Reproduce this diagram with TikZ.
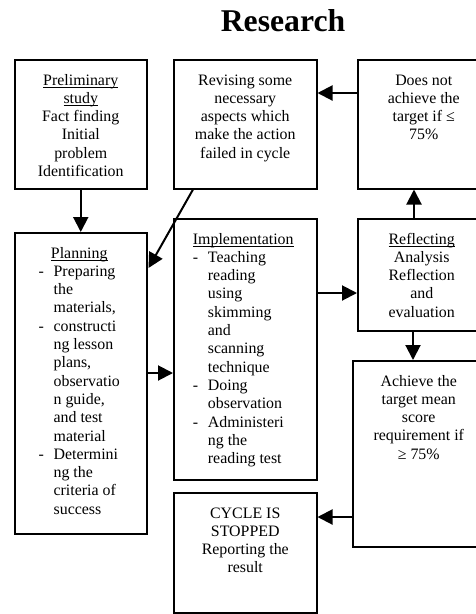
\documentclass[tikz,border=0pt]{standalone}
\usepackage{fontspec}
\setmainfont{Liberation Serif}
\usetikzlibrary{positioning}
\usetikzlibrary{calc}
\usetikzlibrary{arrows.meta}

\newcommand{\itm}{\makebox[15pt][l]{-}}
\newcommand{\cnt}{\hspace*{15pt}}
\newsavebox\ulbox
\newcommand{\uln}[1]{\sbox\ulbox{#1}\rlap{\rule[-2.3pt]{\wd\ulbox}{0.8pt}}\usebox\ulbox}

\begin{document}
\begin{tikzpicture}[x=1pt, y=-1pt,
    box/.style={draw, line width=1.5pt, anchor=north west, inner sep=0pt},
    txt/.style={anchor=north, inner sep=0pt, font=\fontsize{15.9pt}{18.3pt}\selectfont},
    arr/.style={-{Triangle[length=15pt, width=15pt]}, line width=2pt}]
    \useasboundingbox (0,0) rectangle (475,614);

    \node[anchor=base, inner sep=0pt, font=\bfseries\fontsize{31.7pt}{36pt}\selectfont] (title) at (283,31) {Research};

    \node[box, minimum width=132pt, minimum height=129pt] (prelim) at (14,59) {};
    \node[box, minimum width=143pt, minimum height=129pt] (revise) at (173,59) {};
    \node[box, minimum width=132pt, minimum height=129pt] (notach) at (357,59) {};
    \node[box, minimum width=132pt, minimum height=301pt] (plan) at (14,232) {};
    \node[box, minimum width=143pt, minimum height=261pt] (impl) at (173,218) {};
    \node[box, minimum width=128pt, minimum height=112pt] (reflect) at (357,218) {};
    \node[box, minimum width=132pt, minimum height=186pt] (achieve) at (352,360) {};
    \node[box, minimum width=143pt, minimum height=120pt] (stop) at (173,492) {};

    \node[txt] (prelimtxt) at ([yshift=-13pt]prelim.north) {\begin{tabular}{@{}c@{}}
        \uln{Preliminary}\\ \uln{study}\\ Fact finding\\ Initial\\ problem\\ Identification
    \end{tabular}};
    \node[txt] (revisetxt) at ([yshift=-13pt]revise.north) {\begin{tabular}{@{}c@{}}
        Revising some\\ necessary\\ aspects which\\ make the action\\ failed in cycle
    \end{tabular}};
    \node[txt] (notachtxt) at ([yshift=-13pt]notach.north) {\begin{tabular}{@{}c@{}}
        Does not\\ achieve the\\ target if ≤\\ 75\%
    \end{tabular}};
    \node[txt] (plantxt) at ([xshift=-1.5pt, yshift=-13pt]plan.north) {\begin{tabular}{@{}l@{}}
        \multicolumn{1}{@{}c@{}}{\uln{Planning}}\\
        \itm Preparing\\ \cnt the\\ \cnt materials,\\
        \itm constructi\\ \cnt ng lesson\\ \cnt plans,\\ \cnt observatio\\ \cnt n guide,\\ \cnt and test\\ \cnt material\\
        \itm Determini\\ \cnt ng the\\ \cnt criteria of\\ \cnt success
    \end{tabular}};
    \node[txt] (impltxt) at ([xshift=-2pt, yshift=-13pt]impl.north) {\begin{tabular}{@{}l@{}}
        \multicolumn{1}{@{}c@{}}{\uln{Implementation}}\\
        \itm Teaching\\ \cnt reading\\ \cnt using\\ \cnt skimming\\ \cnt and\\ \cnt scanning\\ \cnt technique\\
        \itm Doing\\ \cnt observation\\
        \itm Administeri\\ \cnt ng the\\ \cnt reading test
    \end{tabular}};
    \node[txt] (reflecttxt) at ([yshift=-13pt]reflect.north) {\begin{tabular}{@{}c@{}}
        \uln{Reflecting}\\ Analysis\\ Reflection\\ and\\ evaluation
    \end{tabular}};
    \node[txt] (achievetxt) at ([yshift=-13pt]achieve.north) {\begin{tabular}{@{}c@{}}
        Achieve the\\ target mean\\ score\\ requirement if\\ ≥ 75\%
    \end{tabular}};
    \node[txt] (stoptxt) at ([yshift=-13pt]stop.north) {\begin{tabular}{@{}c@{}}
        CYCLE IS\\ STOPPED\\ Reporting the\\ result
    \end{tabular}};

    % connectors
    \draw[arr] (prelim.south) -- (plan.north);
    \draw[arr] ($(revise.south west)+(20,0)$) -- ($(plan.north east)+(1,36)$);
    \path ($(plan.north east)+(0,141)$) coordinate (p1);
    \draw[arr] (p1) -- (p1 -| impl.west);
    \path ($(impl.north east)+(0,75)$) coordinate (p2);
    \draw[arr] (p2) -- (p2 -| reflect.west);
    \path ($(notach.north west)+(0,34)$) coordinate (p3);
    \draw[arr] (p3) -- (p3 -| revise.east);
    \path ($(reflect.north west)+(57,0)$) coordinate (p4);
    \draw[arr] (p4) -- (p4 |- notach.south);
    \path ($(reflect.south west)+(56,0)$) coordinate (p5);
    \draw[arr] (p5) -- (p5 |- achieve.north);
    \path ($(achieve.north west)+(0,157)$) coordinate (p6);
    \draw[arr] (p6) -- (p6 -| stop.east);
\end{tikzpicture}
\end{document}
